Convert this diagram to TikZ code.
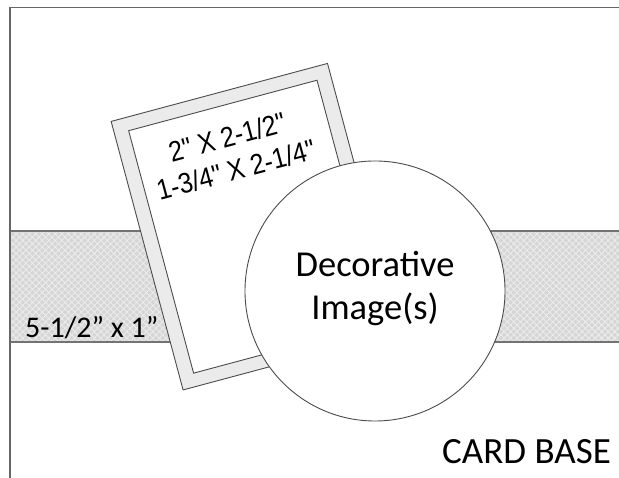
\documentclass[tikz,border=0pt]{standalone}
\usepackage{fontspec}
\setmainfont{Carlito}
\newfontfamily\arialfont{Liberation Sans}
\usetikzlibrary{patterns.meta}
\begin{document}
\begin{tikzpicture}[x=1pt,y=1pt,
  outline/.style={draw=black!70, line width=0.9pt},
  matbox/.style={outline, rotate=15, inner sep=0pt},
  bigtxt/.style={font=\fontsize{36.5}{40}\selectfont, inner sep=0pt},
  sizetxt/.style={font=\arialfont\fontsize{28.5}{30}\selectfont, inner sep=0pt, xscale=0.88}]
\useasboundingbox (0,0) rectangle (619,478);
% patterned band
\path[fill=black!16] (10,136) rectangle (619,247);
\path[pattern={Hatch[angle=45,distance=4.6pt,line width=0.9pt]}, pattern color=white!92!black] (10,136) rectangle (619,247);
\draw[black!55, line width=1.6pt] (10,247) -- (619,247) (10,136) -- (619,136);
% card base edges
\draw[black!60, line width=1.2pt] (10,0) -- (10,470.5) -- (619,470.5);
% matted panel
\node[matbox, fill=black!8, minimum width=224pt, minimum height=278pt] (mat) at (255.3,251.3) {};
\node[matbox, fill=white, minimum width=195pt, minimum height=251pt] (panel) at (255.3,251.3) {};
\begin{scope}[shift={(255.3,251.3)}, rotate=15, transform shape]
  \node[sizetxt] (size1) at (-4,94) {2" X 2-1/2"};
  \node[sizetxt] (size2) at (-4,60) {1-3/4" X 2-1/4"};
\end{scope}
% decorative circle
\node[circle, outline, fill=white, minimum size=260pt, inner sep=0pt] (img) at (375,187) {};
\node[bigtxt, anchor=base] (dec1) at (375,201.3) {Decorative};
\node[bigtxt, anchor=base] (dec2) at (375,158) {Image(s)};
% labels
\node[font=\fontsize{30}{34}\selectfont, inner sep=0pt, anchor=base west] (band) at (25,140) {5-1/2" x 1"};
\node[font=\fontsize{37}{40}\selectfont, inner sep=0pt, anchor=base east] (base) at (611,14) {CARD BASE};
\end{tikzpicture}
\end{document}
